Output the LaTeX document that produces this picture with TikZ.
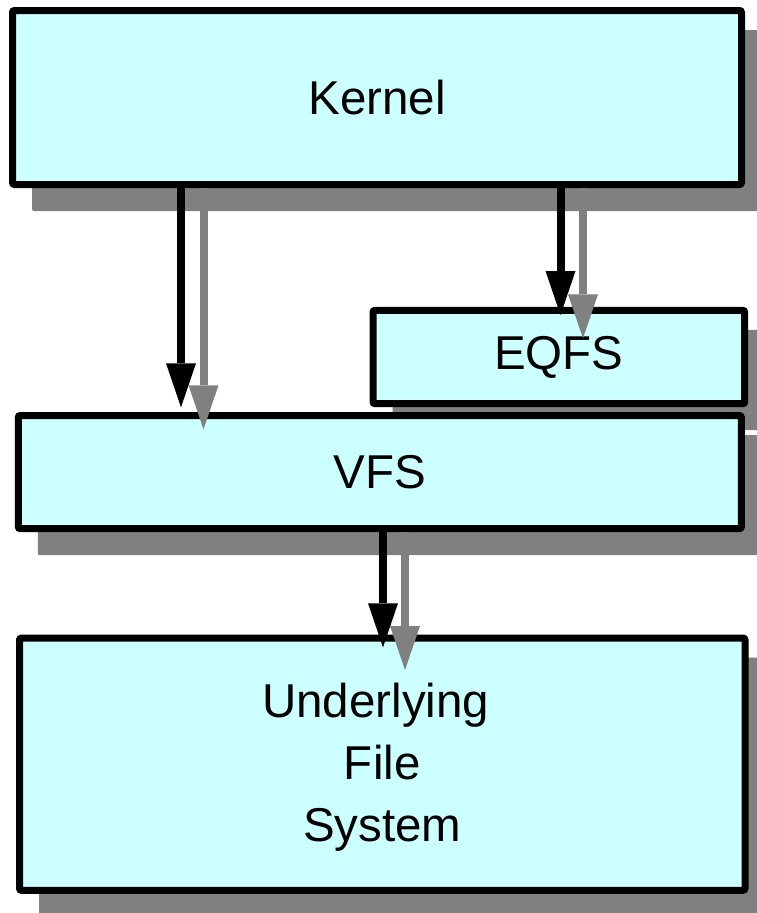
\documentclass[tikz,border=0pt]{standalone}
\usepackage{fontspec}
\setmainfont{Liberation Sans}
\usetikzlibrary{arrows.meta,backgrounds}
\definecolor{boxfill}{HTML}{CCFFFF}
\definecolor{shadowgray}{HTML}{808080}
\tikzset{
  layerbox/.style={draw=black, line width=7pt, fill=boxfill, rounded corners=2pt,
    inner sep=0pt, align=center, font=\fontsize{47.5}{62}\selectfont},
  boxshadow/.style={fill=shadowgray, rounded corners=2pt},
  blackarrow/.style={draw=black, line width=8pt,
    -{Triangle[width=30pt,length=44pt,line width=0pt]}},
  grayarrow/.style={draw=shadowgray, line width=8pt,
    -{Triangle[width=30pt,length=44pt,line width=0pt]}}
}
\begin{document}
\begin{tikzpicture}[x=1pt,y=-1pt]
\useasboundingbox (0,0) rectangle (756,913);
% boxes
\path
  (377,97.5) node[layerbox, minimum width=729pt, minimum height=174pt] (k) {Kernel}
  (558.85,357) node[layerbox, minimum width=371.7pt, minimum height=93.4pt] (e) {EQFS}
  (379.8,472.1) node[layerbox, minimum width=723pt, minimum height=113.2pt] (v) {VFS}
  (382.25,764.15) node[layerbox, minimum width=725.5pt, minimum height=252.3pt] (u)
    {\rule{0pt}{39.6pt}Underlying\kern13pt\\File\\System};
% shadows behind the boxes
\begin{scope}[on background layer]
  \foreach \b in {k,e,v,u}
    \fill[boxshadow] ([shift={(23,23)}]\b.north west) rectangle ([shift={(23,23)}]\b.south east);
\end{scope}
% arrow tips
\coordinate (t1) at (181,407.3);
\coordinate (g1) at (203.5,429.3);
\coordinate (t2) at (560.5,315);
\coordinate (g2) at (583,338.3);
\coordinate (t3) at (383,647.3);
\coordinate (g3) at (405,670);
% gray (shadow) arrows
\draw[grayarrow] (g1 |- k.south) -- (g1);
\draw[grayarrow] (g2 |- k.south) -- (g2);
\draw[grayarrow] (g3 |- v.south) -- (g3);
% black arrows
\draw[blackarrow] (t1 |- k.south) -- (t1);
\draw[blackarrow] (t2 |- k.south) -- (t2);
\draw[blackarrow] (t3 |- v.south) -- (t3);
\end{tikzpicture}
\end{document}
